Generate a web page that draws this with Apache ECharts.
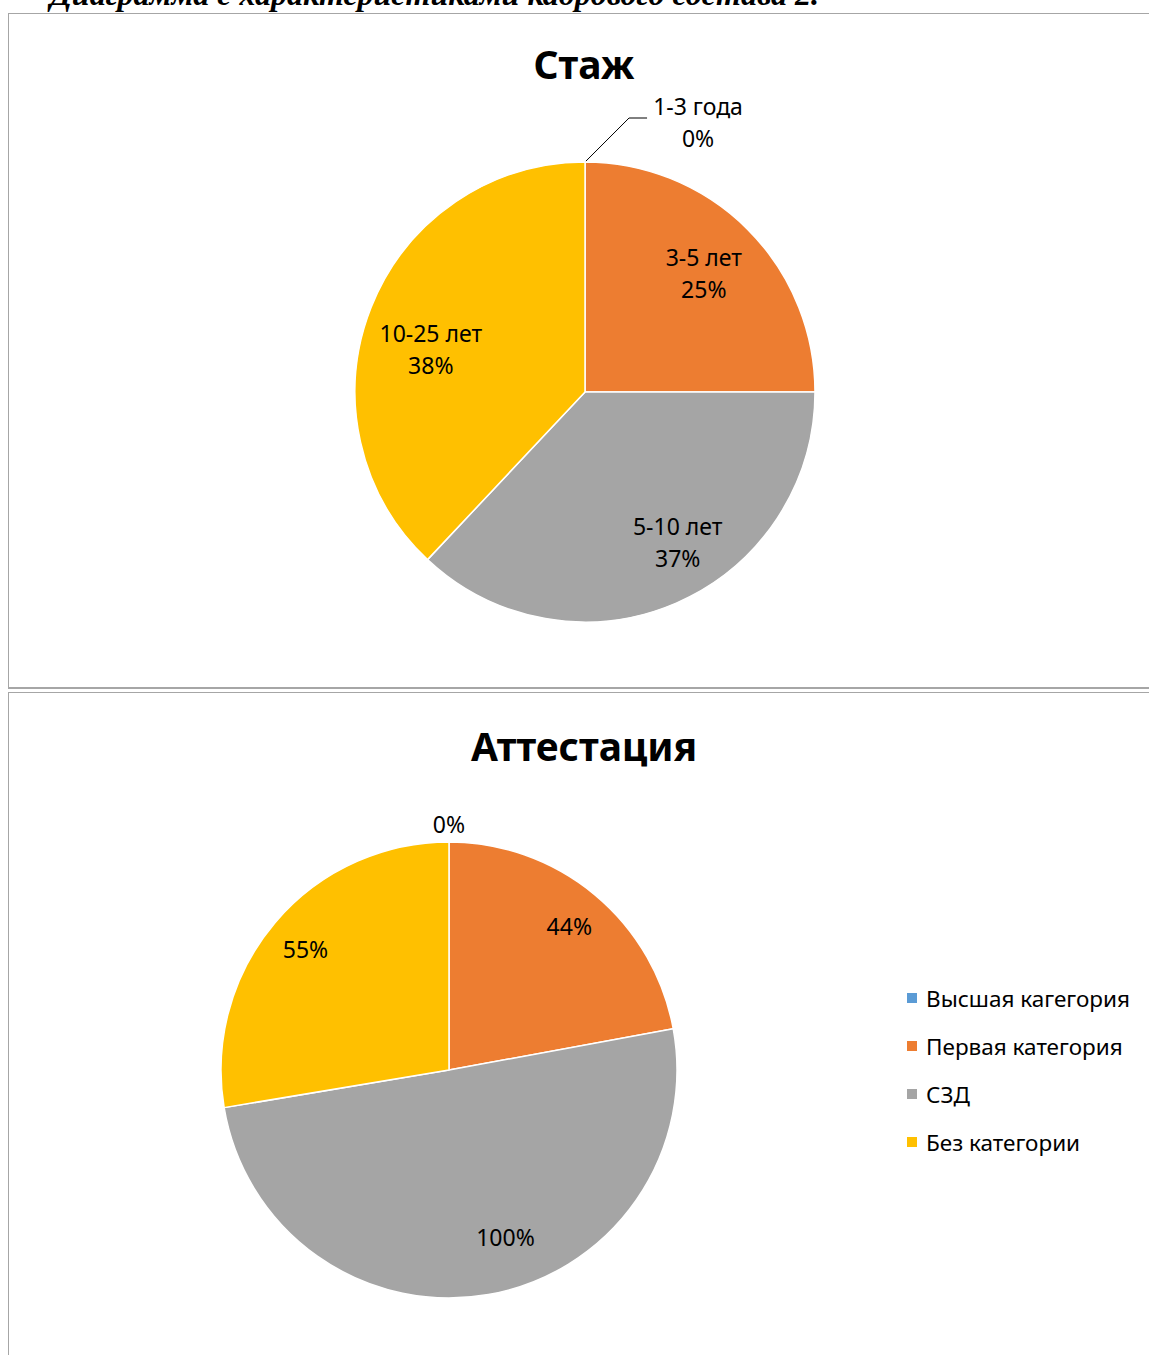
<!DOCTYPE html>
<html><head><meta charset="utf-8">
<script src="https://cdn.jsdelivr.net/npm/echarts@6/dist/echarts.min.js"></script>
<style>
html,body{margin:0;padding:0;background:#fff;width:1149px;height:1355px;overflow:hidden;position:relative;}
.cap{position:absolute;left:50px;top:-22px;font-family:"Liberation Serif","DejaVu Serif",serif;font-style:italic;font-weight:bold;font-size:32px;line-height:32px;white-space:nowrap;color:#000;}
.panel{position:absolute;border:1px solid #a6a6a6;box-sizing:border-box;}
.chart{position:absolute;left:0;width:1168px;}
</style></head>
<body>
<div class="cap">Диаграмма с характеристиками кадрового состава 2.</div>
<div class="panel" style="left:8px;top:13px;width:1160px;height:676px;border-bottom:2px solid #a6a6a6;"></div>
<div class="panel" style="left:8px;top:692px;width:1160px;height:700px;"></div>
<div id="c1" class="chart" style="top:14px;height:674px;"></div>
<div id="c2" class="chart" style="top:693px;height:662px;"></div>
<script>
// ---- data ----
const stazhTitle = 'Стаж';
const stazhCategories = ['1-3 года', '3-5 лет', '5-10 лет', '10-25 лет'];
const stazhValues = [0, 25, 37, 38];

const attTitle = 'Аттестация';
const attCategories = ['Высшая кагегория', 'Первая категория', 'СЗД', 'Без категории'];
const attValues = [0, 44, 100, 55];

// ---- styling / layout ----
const colors = ['#5B9BD5', '#ED7D31', '#A5A5A5', '#FFC000'];
const FONT = '"Noto Sans", sans-serif';
// small label nudges (imitating Excel "best fit" placement), by data index
const nudge1 = { 2: [26, -4], 3: [2, 19] };
const nudge2 = { 2: [24, -18] };

function mk(cats, vals) { return cats.map((c, i) => ({ name: c, value: vals[i] })); }
function nudger(map) {
  return function (p) {
    const n = map[p.dataIndex];
    if (n) return { dx: n[0], dy: n[1] };
  };
}

// ---- chart 1 ----
const c1 = echarts.init(document.getElementById('c1'), null, { renderer: 'svg' });
const d1 = mk(stazhCategories, stazhValues);
c1.setOption({
  animation: false,
  color: colors,
  title: { text: stazhTitle, left: 'center', top: 25, textStyle: { fontFamily: FONT, fontWeight: 'bold', fontSize: 39, color: '#000' } },
  series: [
    {
      type: 'pie', center: [585, 378], radius: [0, 230], startAngle: 89.99, clockwise: true,
      itemStyle: { borderColor: '#fff', borderWidth: 1.5 },
      data: d1.map(d => Object.assign({}, d, {
        label: { show: d.value === 0 },
        labelLine: { show: d.value === 0 }
      })),
      label: {
        position: 'outside', formatter: '{a|{b}}\n{a|{d}%}', color: '#000',
        rich: { a: { width: 92, align: 'center', fontFamily: FONT, fontSize: 23, lineHeight: 32, color: '#000' } }
      },
      labelLine: { length: 44, length2: 62, lineStyle: { color: '#000', width: 1 } },
      labelLayout: function (p) {
        const pts = p.labelLinePoints;
        if (!pts || pts.length < 3) return;
        const rise = pts[0][1] - pts[1][1];
        return {
          dy: 4,
          labelLinePoints: [pts[0], [pts[0][0] + rise, pts[1][1]], pts[2]]
        };
      },
      emphasis: { disabled: true }
    },
    {
      type: 'pie', center: [585, 378], radius: [100, 230], startAngle: 89.99, clockwise: true, silent: true,
      itemStyle: { color: 'rgba(0,0,0,0)' },
      data: d1.map(d => Object.assign({}, d, { label: { show: d.value !== 0 } })),
      label: { position: 'inside', formatter: '{b}\n{d}%', fontFamily: FONT, fontSize: 23, lineHeight: 32, color: '#000' },
      labelLine: { show: false },
      labelLayout: nudger(nudge1),
      emphasis: { disabled: true }
    }
  ]
});

// ---- chart 2 ----
const c2 = echarts.init(document.getElementById('c2'), null, { renderer: 'svg' });
const d2 = mk(attCategories, attValues);
c2.setOption({
  animation: false,
  color: colors,
  title: { text: attTitle, left: 'center', top: 28, textStyle: { fontFamily: FONT, fontWeight: 'bold', fontSize: 39, color: '#000' } },
  legend: {
    orient: 'vertical', left: 900, top: 288, itemWidth: 12, itemHeight: 12, itemGap: 24,
    icon: 'rect', data: attCategories,
    textStyle: { fontFamily: FONT, fontSize: 22.5, lineHeight: 24, color: '#000', padding: [0, 0, 0, 3] }
  },
  series: [
    {
      type: 'pie', center: [449, 377], radius: [0, 228], startAngle: 90, clockwise: true,
      itemStyle: { borderColor: '#fff', borderWidth: 1.5 },
      data: d2.map(d => Object.assign({}, d, { label: { show: d.value === 0 } })),
      label: { position: 'outside', formatter: '{c}%', fontFamily: FONT, fontSize: 23, color: '#000' },
      labelLine: { show: false, length: 8, length2: 0 },
      labelLayout: function (p) {
        const r = p.labelRect;
        return { dx: 449 - (r.x + r.width / 2), dy: -10 };
      },
      emphasis: { disabled: true }
    },
    {
      type: 'pie', center: [449, 377], radius: [142, 228], startAngle: 90, clockwise: true, silent: true,
      itemStyle: { color: 'rgba(0,0,0,0)' },
      data: d2.map(d => Object.assign({}, d, { label: { show: d.value !== 0 } })),
      label: { position: 'inside', formatter: '{c}%', fontFamily: FONT, fontSize: 23, color: '#000' },
      labelLine: { show: false },
      labelLayout: nudger(nudge2),
      emphasis: { disabled: true }
    }
  ]
});
</script>
</body></html>
